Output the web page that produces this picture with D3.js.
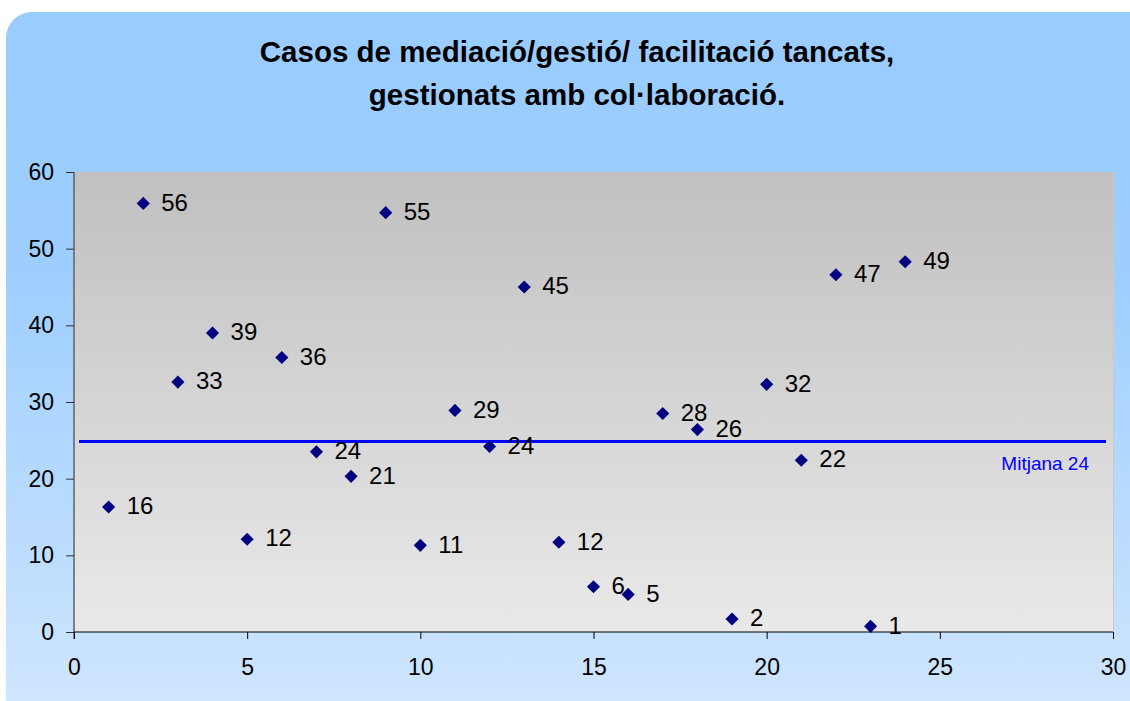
<!DOCTYPE html>
<html><head><meta charset="utf-8">
<script src="https://cdn.jsdelivr.net/npm/d3@7"></script>
<style>body{margin:0;background:#fff;}svg{display:block;font-family:Arial,"Liberation Sans",sans-serif;}</style>
</head><body><svg id="c" width="1130" height="701"></svg>
<script>
const titleLines = ["Casos de mediació/gestió/ facilitació tancats,", "gestionats amb col·laboració."];
const xValues = [1,2,3,4,5,6,7,8,9,10,11,12,13,14,15,16,17,18,19,20,21,22,23,24];
const yValues = [16.3,55.9,32.6,39.0,12.1,35.8,23.5,20.3,54.7,11.3,28.9,24.2,45.0,11.7,5.9,4.9,28.5,26.4,1.7,32.3,22.4,46.6,0.74,48.3];
const pointLabels = ["16","56","33","39","12","36","24","21","55","11","29","24","45","12","6","5","28","26","2","32","22","47","1","49"];
const meanValue = 24.85;
const meanLabel = "Mitjana 24";
const xTicks = [0,5,10,15,20,25,30];
const yTicks = [0,10,20,30,40,50,60];

const svg = d3.select("#c");
const defs = svg.append("defs");
const bg = defs.append("linearGradient").attr("id","bg").attr("x1",0).attr("y1",0).attr("x2",0).attr("y2",1);
bg.append("stop").attr("offset","0%").attr("stop-color","#99CCFF");
bg.append("stop").attr("offset","35%").attr("stop-color","#9ECEFF");
bg.append("stop").attr("offset","100%").attr("stop-color","#D4E8FE");
const pg = defs.append("linearGradient").attr("id","pg").attr("x1",0).attr("y1",0).attr("x2",0).attr("y2",1);
pg.append("stop").attr("offset","0%").attr("stop-color","#C0C0C0");
pg.append("stop").attr("offset","100%").attr("stop-color","#E9E9E9");

svg.append("rect").attr("x",6).attr("y",12).attr("width",1160).attr("height",740).attr("rx",26).attr("ry",26).attr("fill","url(#bg)");

const L=74, R=1113, T=172, B=632;
const x = d3.scaleLinear().domain([0,30]).range([L,R]);
const y = d3.scaleLinear().domain([0,60]).range([B,T]);

svg.append("rect").attr("x",L).attr("y",T).attr("width",R-L).attr("height",B-T).attr("fill","url(#pg)");
svg.append("line").attr("x1",R+0.5).attr("x2",R+0.5).attr("y1",T).attr("y2",B).attr("stroke","#C8C8C8");

// title
svg.append("g").selectAll("text").data(titleLines).join("text")
  .attr("x",577).attr("y",(d,i)=>62+i*43).attr("text-anchor","middle")
  .attr("font-size",29.5).attr("font-weight","bold").attr("fill","#000").text(d=>d);

// axes
const yAxis = svg.append("g").attr("transform",`translate(${L},0)`)
  .call(d3.axisLeft(y).tickValues(yTicks).tickSize(8).tickPadding(12).tickFormat(d3.format("d")));
yAxis.select(".domain").attr("stroke","#606060").attr("stroke-width",1.5).attr("d",`M0,${T}V${B+7}`);
yAxis.selectAll(".tick line").attr("stroke","#303030");
yAxis.selectAll("text").attr("font-size",23).attr("fill","#000").attr("font-family","Arial, 'Liberation Sans', sans-serif");

const xAxis = svg.append("g").attr("transform",`translate(0,${B})`)
  .call(d3.axisBottom(x).tickValues(xTicks).tickSize(7).tickPadding(20).tickFormat(d3.format("d")));
xAxis.select(".domain").attr("stroke","#000").attr("d",`M${L},0H${R}`);
xAxis.selectAll(".tick line").attr("stroke","#000");
xAxis.selectAll("text").attr("font-size",23).attr("fill","#000").attr("font-family","Arial, 'Liberation Sans', sans-serif");

// mean line
svg.append("line").attr("x1",L+5).attr("x2",R-7).attr("y1",y(meanValue)).attr("y2",y(meanValue))
  .attr("stroke","#0000FF").attr("stroke-width",3);
svg.append("text").attr("x",R-24).attr("y",y(meanValue)+29).attr("text-anchor","end")
  .attr("font-size",19).attr("fill","#0000FF").text(meanLabel);

// points
const data = xValues.map((v,i)=>({x:v,y:yValues[i],label:pointLabels[i]}));
const sym = d3.symbol().type(d3.symbolDiamond2).size(110);
svg.append("g").selectAll("path").data(data).join("path")
  .attr("transform",d=>`translate(${x(d.x)},${y(d.y)})`).attr("d",sym).attr("fill","#000080");
svg.append("g").selectAll("text").data(data).join("text")
  .attr("x",d=>x(d.x)+18).attr("y",d=>y(d.y)).attr("dy","0.3em")
  .attr("font-size",24).attr("fill","#000").text(d=>d.label);
</script></body></html>
